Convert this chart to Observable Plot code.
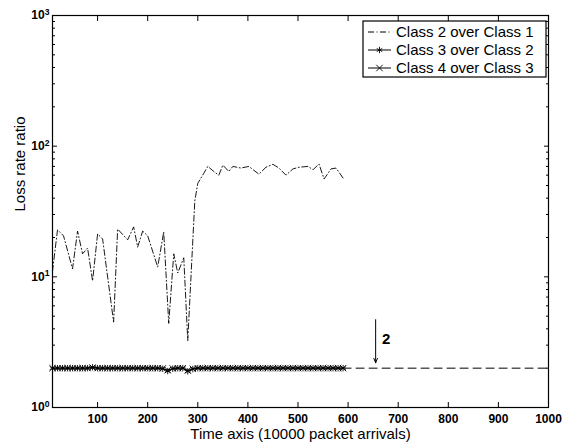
<!DOCTYPE html>
<html><head><meta charset="utf-8">
<script src="https://cdn.jsdelivr.net/npm/d3@7"></script>
<script src="https://cdn.jsdelivr.net/npm/@observablehq/plot@0.6"></script>
<style>body{margin:0;background:#fff}</style>
</head><body><div id="chart"></div>
<script>
// ---- data ----
const seriesNames = ["Class 2 over Class 1", "Class 3 over Class 2", "Class 4 over Class 3"];
const xLabel = "Time axis (10000 packet arrivals)";
const yLabel = "Loss rate ratio";

// Class 2 over Class 1
const t21 = [10,20,32,50,60,70,80,90,100,110,132,140,160,172,180,190,200,220,232,242,252,260,272,280,294,300,312,320,332,342,350,362,370,386,402,422,436,450,462,476,490,502,520,530,542,552,566,576,590];
const r21 = [11,22.9,20.6,11.5,22.4,15,16.6,9.3,21.3,19.5,4.5,23.2,19.2,24.1,16.9,22.4,20.6,11.9,22.1,4.4,15,10.7,14,3.25,38,52,62,70,64,60,71.6,64,70,68,70,61,69,72.6,68,60,67,69,70,66,73,56,67,68,57];

// Class 3 over Class 2 and Class 4 over Class 3
const tLow = [10,20,30,40,50,60,70,80,90,100,110,120,130,140,150,160,170,180,190,200,210,220,230,240,250,260,270,280,290,300,310,320,330,340,350,360,370,380,390,400,410,420,430,440,450,460,470,480,490,500,510,520,530,540,550,560,570,580,590];
const r32 = [2,2,2,2,2,2,2,2,2.03,2, 2,2,2,2,2,2,2,2,2,2, 2,2,1.98,1.9,1.98,2,2,1.89,1.97,2, 2,2,2,2,2,2,2,2,2,2, 2,2,2,2,2,2,2,2,2,2, 2,2,2,2,2,2,2,2,2];
const r43 = [2,2,2,2,2,2,2,2,2.02,2, 2,2,2,2,2,2,2,2,2,2, 2,2,1.99,1.93,1.99,2,2,1.92,1.98,2, 2,2,2,2,2,2,2,2,2,2, 2,2,2,2,2,2,2,2,2,2, 2,2,2,2,2,2,2,2,2];

// reference level line (dashed) and annotation
const refX = [590, 1000];
const refY = [2, 2];
const arrowData = [{x: 655, from: 4.7, to: 2.2}];
const annot = [{x: 676, y: 3.32, label: "2"}];

// ticks
const xTicks = [100,200,300,400,500,600,700,800,900,1000];
const yTicks = [1,10,100,1000];
const yMinor = [2,3,4,5,6,7,8,9,20,30,40,50,60,70,80,90,200,300,400,500,600,700,800,900];

// ---- chart ----
const FONT = "'Liberation Sans', Arial, Helvetica, sans-serif";
const plot = Plot.plot({
  width: 572, height: 448,
  marginLeft: 52, marginRight: 24, marginTop: 15, marginBottom: 41,
  style: {fontFamily: FONT, background: "#fff", color: "#000", overflow: "visible"},
  x: {domain: [10, 1000]},
  y: {type: "log", domain: [1, 1000]},
  marks: [
    Plot.axisX({anchor: "bottom", ticks: xTicks, tickSize: 0, tickPadding: 7, fontSize: 12,
      tickFormat: d => String(d), label: null}),
    Plot.axisX({anchor: "bottom", ticks: xTicks, tickSize: 5, dy: -5, text: null, label: null}),
    Plot.axisX({anchor: "top", ticks: xTicks, tickSize: 5, dy: 5, text: null, label: null}),
    Plot.axisY({anchor: "left", ticks: yTicks, tickSize: 0, tickPadding: 3, fontSize: 12,
      tickFormat: d => "10^" + Math.round(Math.log10(d)), label: null}),
    Plot.axisY({anchor: "left", ticks: yTicks, tickSize: 5, dx: 5, text: null, label: null}),
    Plot.axisY({anchor: "left", ticks: yMinor, tickSize: 3, dx: 3, text: null, label: null}),
    Plot.axisY({anchor: "right", ticks: yTicks, tickSize: 5, dx: -5, text: null, label: null}),
    Plot.axisY({anchor: "right", ticks: yMinor, tickSize: 3, dx: -3, text: null, label: null}),
    Plot.frame({stroke: "#000", strokeWidth: 1.2}),
    // series
    Plot.line(r21, {x: t21, y: r21, stroke: "#000", strokeWidth: 0.9, strokeDasharray: "6,2.5,1,2.5"}),
    Plot.line(r32, {x: tLow, y: r32, stroke: "#000", strokeWidth: 1}),
    Plot.line(r43, {x: tLow, y: r43, stroke: "#000", strokeWidth: 1}),
    Plot.dot(r32, {x: tLow, y: r32, symbol: "asterisk", r: 3, stroke: "#000", strokeWidth: 0.9}),
    Plot.dot(r43, {x: tLow, y: r43, symbol: "times", r: 3, stroke: "#000", strokeWidth: 0.9}),
    Plot.line(refY, {x: refX, y: refY, stroke: "#000", strokeWidth: 1, strokeDasharray: "8,5"}),
    Plot.arrow(arrowData, {x1: "x", y1: "from", x2: "x", y2: "to", stroke: "#000", strokeWidth: 1, headLength: 7, headAngle: 45}),
    Plot.text(annot, {x: "x", y: "y", text: "label", fontSize: 15, fontWeight: "bold", fill: "#000"}),
    // axis titles
    Plot.text([xLabel], {frameAnchor: "bottom", dy: 27, fontSize: 15, fill: "#000", lineAnchor: "middle"}),
    Plot.text([yLabel], {frameAnchor: "left", dx: -32, rotate: -90, fontSize: 15, fill: "#000", lineAnchor: "middle"})
  ]
});

const svg = d3.select(plot);
// superscript exponents on y tick labels, bold tick labels
svg.selectAll("text").each(function() {
  const s = this.textContent;
  if (/^\d+$/.test(s) && s !== "2") {
    d3.select(this).style("font-weight", "bold").style("font-size", "12px");
  } else if (/^10\^\d$/.test(s)) {
    const [b, e] = s.split("^");
    const t = d3.select(this).style("font-weight", "bold").style("font-size", "12px");
    t.text(null);
    t.append("tspan").text(b);
    t.append("tspan").attr("dy", "-0.5em").attr("font-size", "0.72em").text(e);
  }
});

// legend (MATLAB style box, top-right)
const lg = svg.append("g").attr("font-family", FONT).attr("font-size", 15).attr("text-anchor", "start");
const box = {x: 363, y: 21, w: 183, h: 56};
lg.append("rect").attr("x", box.x).attr("y", box.y).attr("width", box.w).attr("height", box.h)
  .attr("fill", "#fff").attr("stroke", "#000").attr("stroke-width", 1.2);
const styles = [
  {dash: "6,2.5,1,2.5", sym: null},
  {dash: null, sym: d3.symbolAsterisk},
  {dash: null, sym: d3.symbolTimes}
];
seriesNames.forEach((name, i) => {
  const cy = box.y + 11 + i * 18;
  const l = lg.append("line").attr("x1", 368).attr("x2", 391).attr("y1", cy).attr("y2", cy)
    .attr("stroke", "#000").attr("stroke-width", 1);
  if (styles[i].dash) l.attr("stroke-dasharray", styles[i].dash);
  if (styles[i].sym) lg.append("path").attr("d", d3.symbol(styles[i].sym, Math.PI * 9)())
    .attr("transform", `translate(379.5,${cy})`).attr("fill", "none").attr("stroke", "#000").attr("stroke-width", 0.9);
  lg.append("text").attr("x", 396).attr("y", cy).attr("dy", "0.35em").attr("text-anchor", "start").attr("fill", "#000").text(name);
});

document.getElementById("chart").append(plot);
</script>
</body></html>
